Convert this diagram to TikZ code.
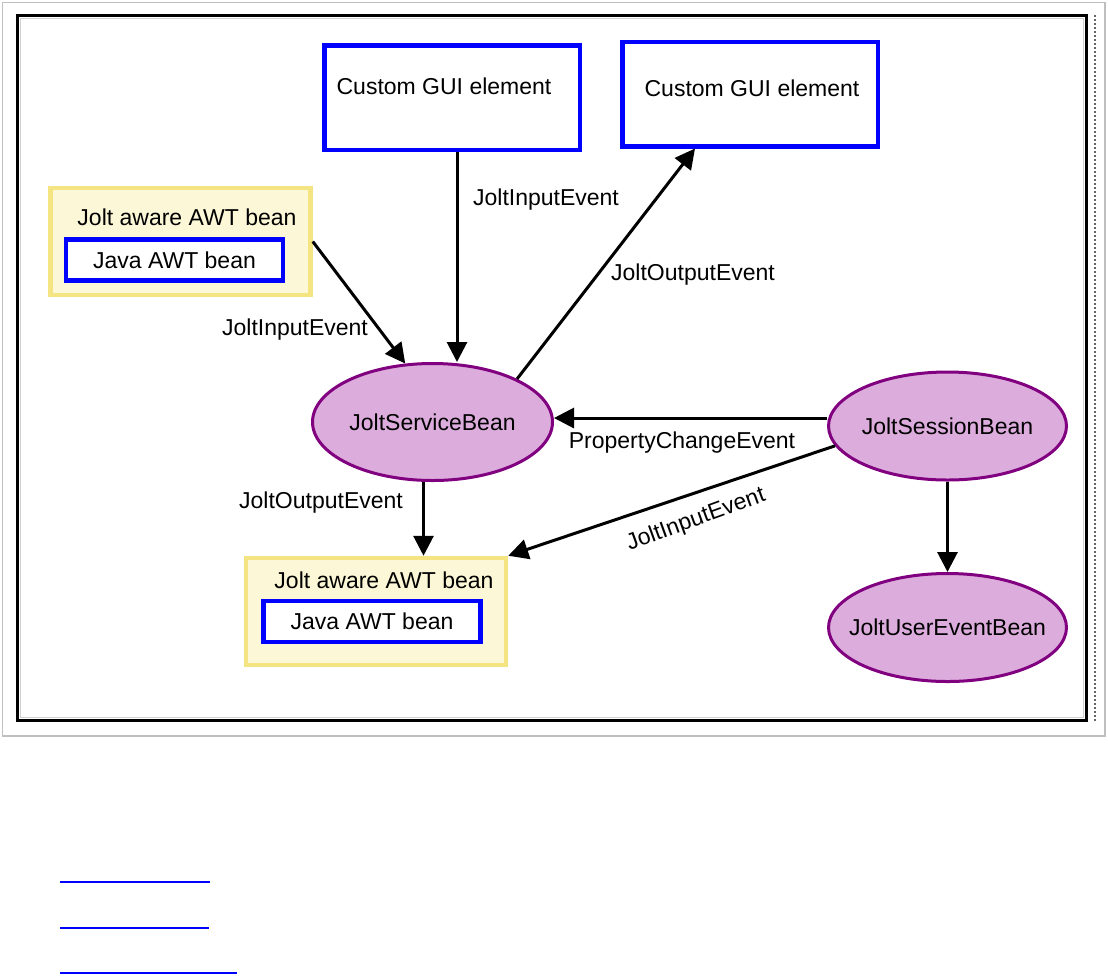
\documentclass[tikz,border=0pt]{standalone}
\usepackage{fontspec}
\setmainfont{Liberation Sans}
\usetikzlibrary{arrows.meta,shapes.geometric}
\definecolor{jb_blue}{RGB}{0,0,255}
\definecolor{jb_purple}{RGB}{128,0,128}
\definecolor{jb_pink}{RGB}{220,172,220}
\definecolor{jb_yellow}{RGB}{245,229,130}
\definecolor{jb_cream}{RGB}{252,247,214}
\tikzstyle{gb}=[rectangle,draw=jb_blue,fill=white,line width=4.5pt,
  minimum width=255.5pt,minimum height=104.5pt]
\tikzstyle{yb}=[rectangle,draw=jb_yellow,fill=jb_cream,line width=4.5pt,
  minimum width=260pt,minimum height=107pt]
\tikzstyle{bb}=[rectangle,draw=jb_blue,fill=white,line width=4.5pt,
  minimum width=217pt,minimum height=41pt,inner sep=0pt]
\tikzstyle{pe}=[ellipse,draw=jb_purple,fill=jb_pink,line width=3pt,
  inner xsep=-40pt,inner ysep=0pt,minimum width=238pt,minimum height=108pt]
\tikzstyle{ev}=[inner sep=0pt]
\tikzstyle{arr}=[line width=3pt,-{Triangle[length=20pt,width=20pt]}]

\begin{document}
\begin{tikzpicture}[x=1pt, y=-1pt, every node/.style={font=\fontsize{23}{26}\selectfont}]
    \useasboundingbox (0,0) rectangle (1108,975);
    % frames
    \draw [gray!50, line width=1.5pt] (2.5,2.5) rectangle (1105,736);
    \draw [line width=3pt] (17,15) rectangle (1086,720);
    \draw [gray!35, line width=1pt] (20,18) rectangle (1083,717);
    \draw [dash pattern=on 1.5pt off 2.5pt, line width=1.5pt, gray!80!black] (1095,15) -- (1095,722);
    \node [style=gb] (gui1) at (452,97.5) {};
    \node [style=ev] (t1) at (444,86) {Custom GUI element};
    \node [style=gb] (gui2) at (750,94) {};
    \node [style=ev] (t2) at (752,88) {Custom GUI element};
    \node [style=yb] (awt1) at (180.5,241.5) {};
    \node [style=ev] (t3) at (187,217) {Jolt aware AWT bean};
    \node [style=bb] (java1) at (174.5,260) {Java AWT bean};
    \node [style=yb] (awt2) at (376,611.5) {};
    \node [style=ev] (t4) at (384,580) {Jolt aware AWT bean};
    \node [style=bb] (java2) at (372,621.5) {Java AWT bean};
    \node [style=pe, minimum width=240pt, minimum height=117pt] (jsb) at (432.5,422) {JoltServiceBean};
    \node [style=pe] (jses) at (947.5,426) {JoltSessionBean};
    \node [style=pe] (jue) at (947.5,627.5) {JoltUserEventBean};
    \draw [style=arr] (awt1.east) -- (jsb.115);
    \draw [style=arr] ([xshift=5pt]gui1.south) -- ([xshift=5pt]gui1.south |- jsb.north);
    \draw [style=arr] (jsb.27) -- ([xshift=-55pt]gui2.south);
    \draw [style=arr] ([xshift=-9pt]jsb.south) -- ([xshift=-9pt]jsb.south |- awt2.north);
    \draw [style=arr] ([yshift=8pt]jses.west) -- ([yshift=8pt]jses.west -| jsb.east);
    \draw [style=arr] (jses.190) -- (awt2.north east);
    \draw [style=arr] (jses.south) -- (jue.north);
    \node [style=ev] (l1) at (295,330) {JoltInputEvent};
    \node [style=ev] (l2) at (546,200) {JoltInputEvent};
    \node [style=ev] (l3) at (693,275) {JoltOutputEvent};
    \node [style=ev] (l4) at (321,503) {JoltOutputEvent};
    \node [style=ev] (l5) at (682,443) {PropertyChangeEvent};
    \node [style=ev, rotate=20] (l6) at (696,520) {JoltInputEvent};
    % links
    \foreach \y/\w in {882/210, 928/209, 973/237}
      \draw [jb_blue, line width=1.5pt] (60,\y) -- (\w,\y);
\end{tikzpicture}
\end{document}
